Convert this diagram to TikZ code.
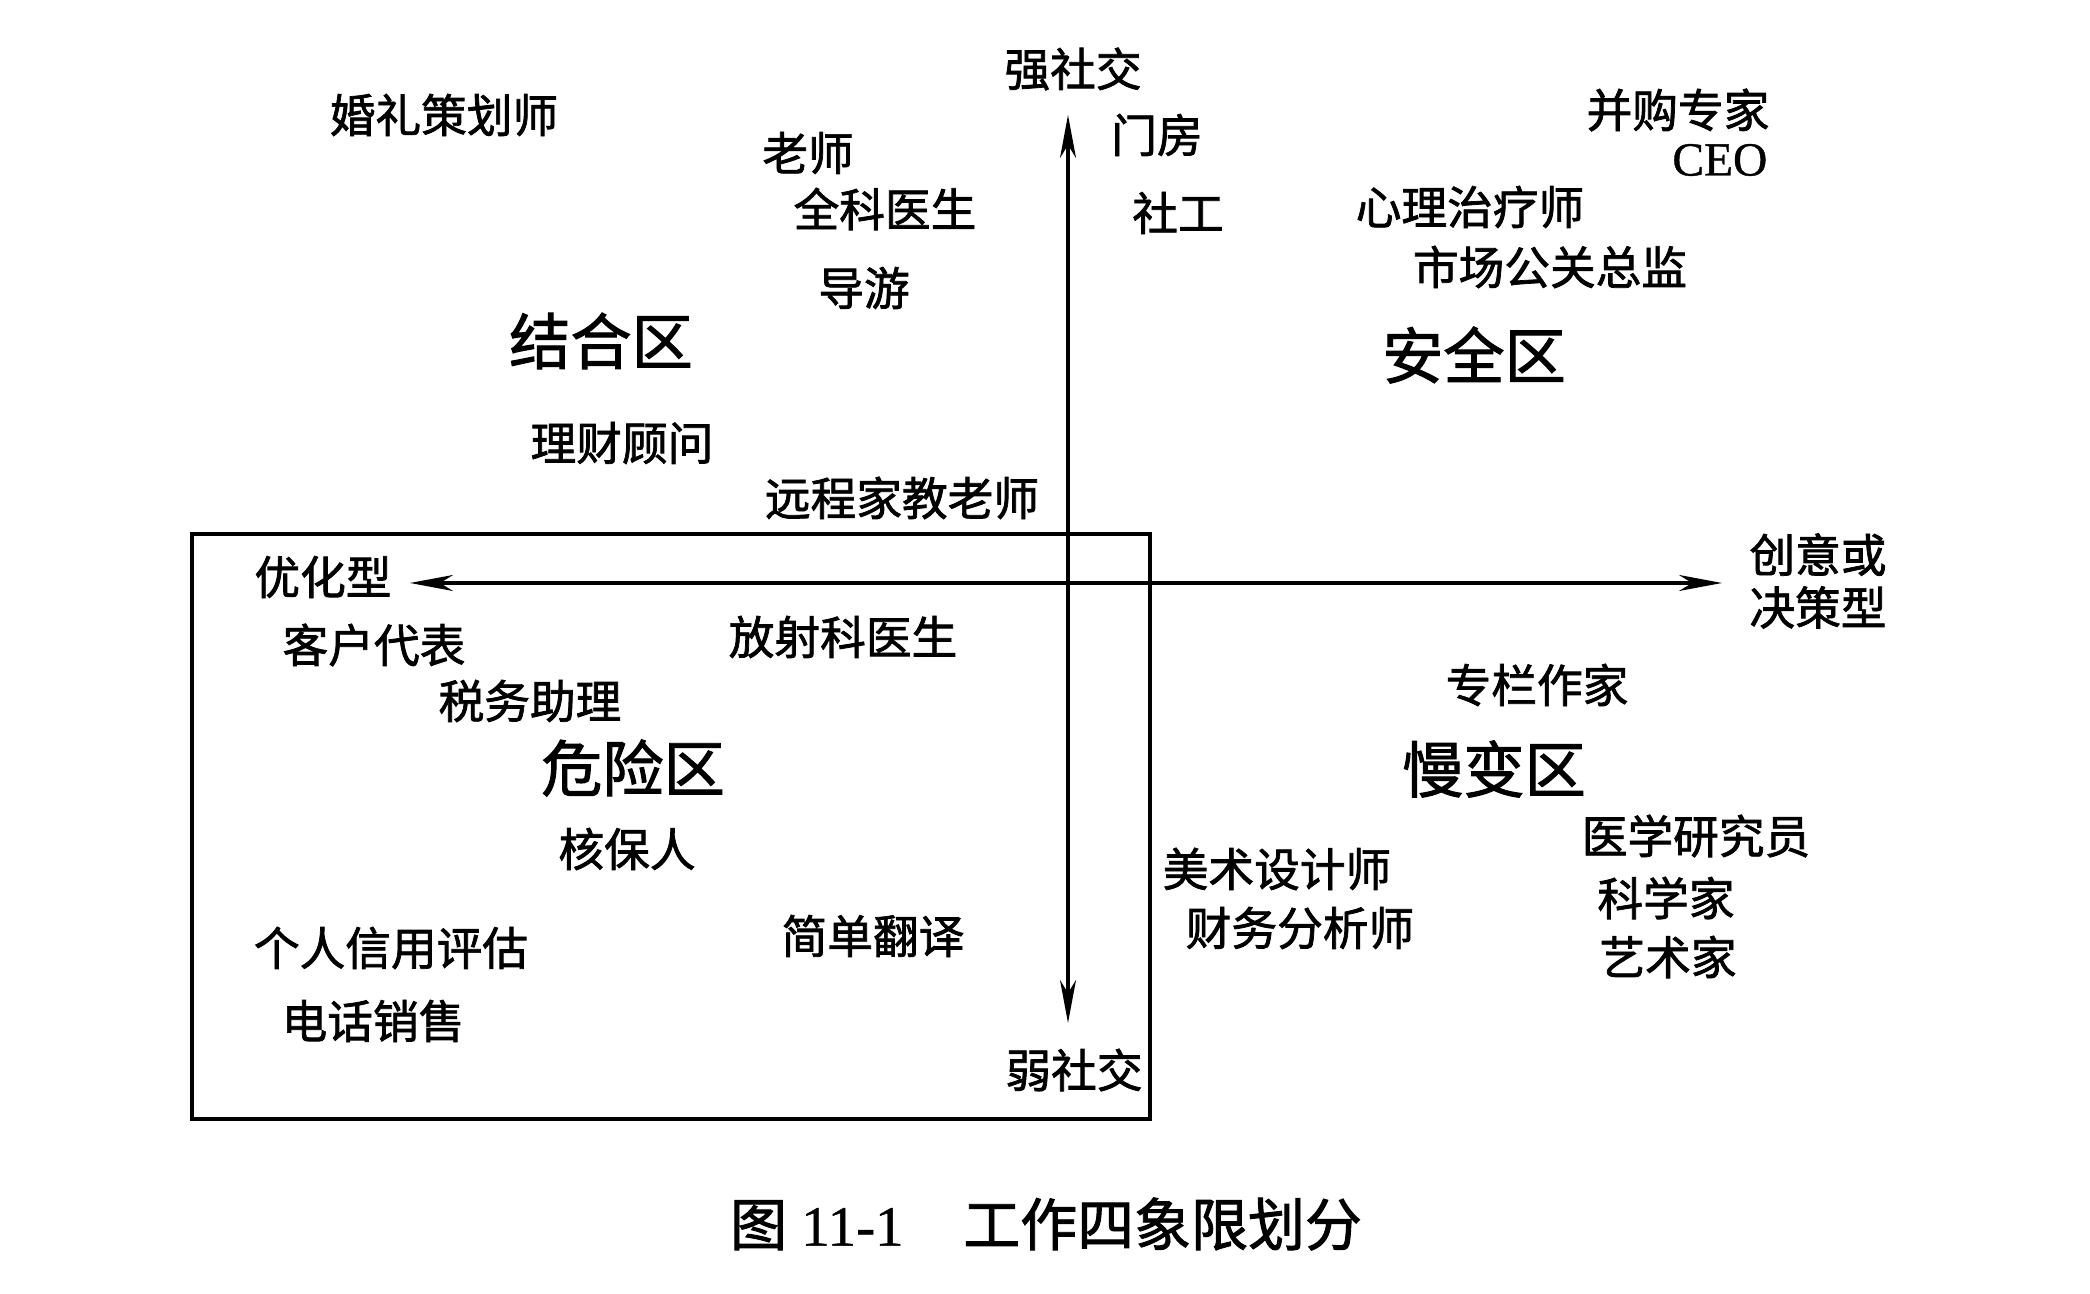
\documentclass[tikz,border=0pt]{standalone}
\usepackage{fontspec}
\setmainfont{Noto Sans CJK SC}[FakeBold=1.6]
\newfontfamily\latinfont{Liberation Serif}[FakeBold=0.8]
\usetikzlibrary{arrows.meta}
\usetikzlibrary{positioning}

\tikzset{
	job/.style={inner sep=0pt, font=\fontsize{13}{15}\selectfont},
	zone/.style={inner sep=0pt, font=\fontsize{17.4}{20}\selectfont},
	axislabel/.style={job},
	axisline/.style={line width=0.9pt, {Stealth[length=4.3mm, width=1.6mm, inset=1.3mm]}-{Stealth[length=4.3mm, width=1.6mm, inset=1.3mm]}}
}

\begin{document}
\begin{tikzpicture}
	\useasboundingbox (0,0) rectangle (20.9,12.93);

	% axis end points and the box round the danger zone
	\coordinate (top) at (10.68,11.78);
	\coordinate (bottom) at (10.68,2.70);
	\coordinate (left) at (4.10,7.10);
	\coordinate (right) at (17.22,7.10);
	\coordinate (boxsw) at (1.92,1.74);
	\coordinate (boxne) at (11.50,7.59);

	\begin{scope}[every node/.style={axislabel}]
		\node (strong) at (10.73,12.24) {强社交};
		\node (weak) at (10.74,2.23) {弱社交};
		\node (optim) at (3.23,7.16) {优化型};
		\node[align=center] (creative) at (18.18,7.12) {创意或\\决策型};
	\end{scope}

	\begin{scope}[every node/.style={zone}]
		\node (combine) at (6.01,9.52) {结合区};
		\node (safe) at (14.74,9.38) {安全区};
		\node (danger) at (6.33,5.25) {危险区};
		\node (slow) at (14.94,5.24) {慢变区};
	\end{scope}

	\begin{scope}[every node/.style={job}]
		% upper left
		\node (wedding) at (4.44,11.78) {婚礼策划师};
		\node (teacher) at (8.08,11.40) {老师};
		\node (gp) at (8.85,10.84) {全科医生};
		\node (guide) at (8.64,10.05) {导游};
		\node (advisor) at (6.22,8.50) {理财顾问};
		\node (tutor) at (9.02,7.95) {远程家教老师};
		\node (porter) at (11.57,11.58) {门房};
		\node (social) at (11.78,10.80) {社工};
		% upper right
		\node (merger) at (16.78,11.83) {并购专家};
		\node[anchor=east, font=\fontsize{13.5}{15}\selectfont\latinfont] (ceo) at (17.68,11.33) {CEO};
		\node (therapist) at (14.70,10.86) {心理治疗师};
		\node (pr) at (15.50,10.26) {市场公关总监};
		% lower left
		\node (client) at (3.74,6.48) {客户代表};
		\node (tax) at (5.30,5.92) {税务助理};
		\node (radio) at (8.43,6.56) {放射科医生};
		\node (underwriter) at (6.27,4.44) {核保人};
		\node (credit) at (3.91,3.45) {个人信用评估};
		\node (translate) at (8.73,3.57) {简单翻译};
		\node (sales) at (3.73,2.72) {电话销售};
		% lower right
		\node (columnist) at (15.37,6.08) {专栏作家};
		\node (researcher) at (16.96,4.57) {医学研究员};
		\node (designer) at (12.77,4.24) {美术设计师};
		\node (analyst) at (13.00,3.65) {财务分析师};
		\node (scientist) at (16.66,3.95) {科学家};
		\node (artist) at (16.68,3.36) {艺术家};
	\end{scope}

	\draw[line width=1.4pt] (boxsw) rectangle (boxne);
	\draw[axisline] (top) -- (bottom);
	\draw[axisline] (left) -- (right);

	\node[inner sep=0pt, font=\fontsize{16.2}{18}\selectfont] (caption) at (10.46,0.69)
		{图\hspace{0.25em}{\latinfont 11-1}\hspace{1.05em}工作四象限划分};
\end{tikzpicture}
\end{document}
